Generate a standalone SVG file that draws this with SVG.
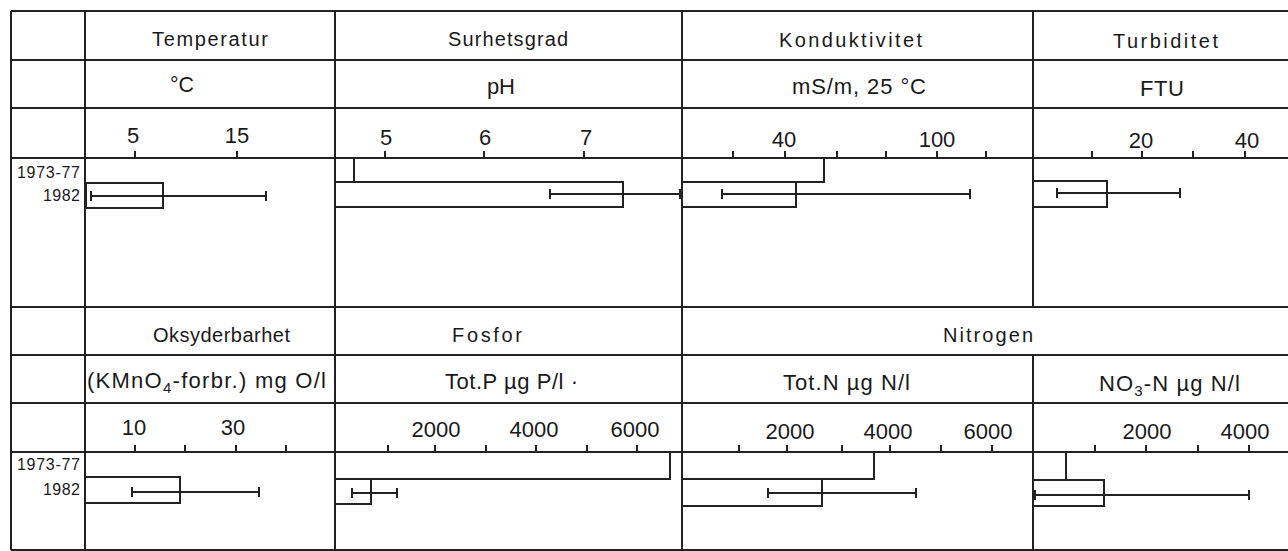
<svg xmlns="http://www.w3.org/2000/svg" width="1288" height="551" viewBox="0 0 1288 551">
<style>
.g{stroke:#222;stroke-width:2;fill:none}
.b{stroke:#222;stroke-width:2;fill:none}
.e{stroke:#222;stroke-width:2;fill:none}
.t{font-family:"Liberation Sans",Arial,sans-serif;fill:#1a1a1a;font-size:20px}
.u{font-family:"Liberation Sans",Arial,sans-serif;fill:#1a1a1a;font-size:22px}
.n{font-family:"Liberation Sans",Arial,sans-serif;fill:#1a1a1a;font-size:22px;text-anchor:middle}
.y{font-family:"Liberation Sans",Arial,sans-serif;fill:#1a1a1a;font-size:16px}
</style>
<rect width="1288" height="551" fill="#fff"/>
<g id="grid">
<path class="g" d="M11 11H1288M11 60H1288M11 108H1288M11 158H1288M11 307H1288M11 355H1288M11 403H1288M11 452H1288M11 550H1288"/>
<path class="g" d="M11 11V550M85 11V550M335 11V550M682 11V550M1033 11V307M1033 355V550"/>
</g>
<g id="labels">
<text class="y" x="17" y="178" textLength="63" lengthAdjust="spacing">1973-77</text>
<text class="y" x="43" y="201" textLength="37" lengthAdjust="spacing">1982</text>
<text class="y" x="17" y="470" textLength="63" lengthAdjust="spacing">1973-77</text>
<text class="y" x="43" y="495" textLength="37" lengthAdjust="spacing">1982</text>
</g>
<g id="temperatur">
<text class="t" x="152" y="46" textLength="116" lengthAdjust="spacing">Temperatur</text>
<text class="u" x="170" y="92" textLength="24" lengthAdjust="spacingAndGlyphs">°C</text>
<text class="n" x="133" y="143">5</text>
<text class="n" x="237" y="143">15</text>
<path class="g" d="M135 151V158M237 151V158"/>
<rect class="b" x="86" y="183" width="77" height="25"/>
<path class="e" d="M91 196H266M91 191V201M266 191V201"/>
</g>
<g id="surhetsgrad">
<text class="t" x="448" y="46" textLength="120" lengthAdjust="spacing">Surhetsgrad</text>
<text class="u" x="487" y="94" textLength="28" lengthAdjust="spacing">pH</text>
<text class="n" x="386" y="145">5</text>
<text class="n" x="485" y="145">6</text>
<text class="n" x="586" y="145">7</text>
<path class="g" d="M385 151V158M484 151V158M584 151V158"/>
<rect class="b" x="335" y="158" width="19" height="24"/>
<rect class="b" x="335" y="182" width="288" height="25"/>
<path class="e" d="M550 194H680M550 189V199M680 189V199"/>
</g>
<g id="konduktivitet">
<text class="t" x="779" y="47" textLength="143" lengthAdjust="spacing">Konduktivitet</text>
<text class="u" x="792" y="94" textLength="134" lengthAdjust="spacing">mS/m, 25 °C</text>
<text class="n" x="784" y="147">40</text>
<text class="n" x="937" y="147">100</text>
<path class="g" d="M733 151V158M785 151V158M837 151V158M886 151V158M937 151V158M986 151V158"/>
<rect class="b" x="682" y="158" width="142" height="24"/>
<rect class="b" x="682" y="182" width="114" height="25"/>
<path class="e" d="M722 194H970M722 189V199M970 189V199"/>
</g>
<g id="turbiditet">
<text class="t" x="1113" y="48" textLength="105" lengthAdjust="spacing">Turbiditet</text>
<text class="u" x="1140" y="96" textLength="44" lengthAdjust="spacing">FTU</text>
<text class="n" x="1141" y="148">20</text>
<text class="n" x="1247" y="148">40</text>
<path class="g" d="M1092 151V158M1142 151V158M1193 151V158M1245 151V158"/>
<rect class="b" x="1033" y="181" width="74" height="26"/>
<path class="e" d="M1057 193H1180M1057 188V198M1180 188V198"/>
</g>
<g id="oksyderbarhet">
<text class="t" x="153" y="342" textLength="137" lengthAdjust="spacing">Oksyderbarhet</text>
<text class="u" x="87" y="388" textLength="239" lengthAdjust="spacing">(KMnO<tspan font-size="15" dy="5">4</tspan><tspan dy="-5">-forbr.) mg O/l</tspan></text>
<text class="n" x="134" y="435">10</text>
<text class="n" x="233" y="435">30</text>
<path class="g" d="M135 445V452M185 445V452M236 445V452M286 445V452"/>
<rect class="b" x="85" y="477" width="95" height="26"/>
<path class="e" d="M132 492H259M132 487V497M259 487V497"/>
</g>
<g id="fosfor">
<text class="t" x="452" y="342" textLength="70" lengthAdjust="spacing">Fosfor</text>
<text class="u" x="445" y="389" textLength="133" lengthAdjust="spacing">Tot.P µg P/l ·</text>
<text class="n" x="436" y="437">2000</text>
<text class="n" x="534" y="437">4000</text>
<text class="n" x="635" y="437">6000</text>
<path class="g" d="M388 445V452M435 445V452M486 445V452M536 445V452M587 445V452M637 445V452"/>
<rect class="b" x="335" y="452" width="335" height="27"/>
<rect class="b" x="335" y="479" width="36" height="25"/>
<path class="e" d="M352 493H397M352 488V498M397 488V498"/>
</g>
<g id="nitrogen">
<text class="t" x="943" y="342" textLength="90" lengthAdjust="spacing">Nitrogen</text>
</g>
<g id="totn">
<text class="u" x="783" y="390" textLength="127" lengthAdjust="spacing">Tot.N µg N/l</text>
<text class="n" x="790" y="439">2000</text>
<text class="n" x="888" y="439">4000</text>
<text class="n" x="988" y="439">6000</text>
<path class="g" d="M739 445V452M787 445V452M842 445V452M890 445V452M941 445V452M992 445V452"/>
<rect class="b" x="682" y="452" width="192" height="27"/>
<rect class="b" x="682" y="479" width="140" height="27"/>
<path class="e" d="M768 493H916M768 488V498M916 488V498"/>
</g>
<g id="no3n">
<text class="u" x="1099" y="391" textLength="141" lengthAdjust="spacing">NO<tspan font-size="15" dy="5">3</tspan><tspan dy="-5">-N µg N/l</tspan></text>
<text class="n" x="1147" y="439">2000</text>
<text class="n" x="1245" y="439">4000</text>
<path class="g" d="M1095 445V452M1146 445V452M1198 445V452M1249 445V452"/>
<rect class="b" x="1033" y="452" width="33" height="28"/>
<rect class="b" x="1033" y="480" width="71" height="26"/>
<path class="e" d="M1035 495H1249M1035 490V500M1249 490V500"/>
</g>
<g id="connectors"/>
</svg>
